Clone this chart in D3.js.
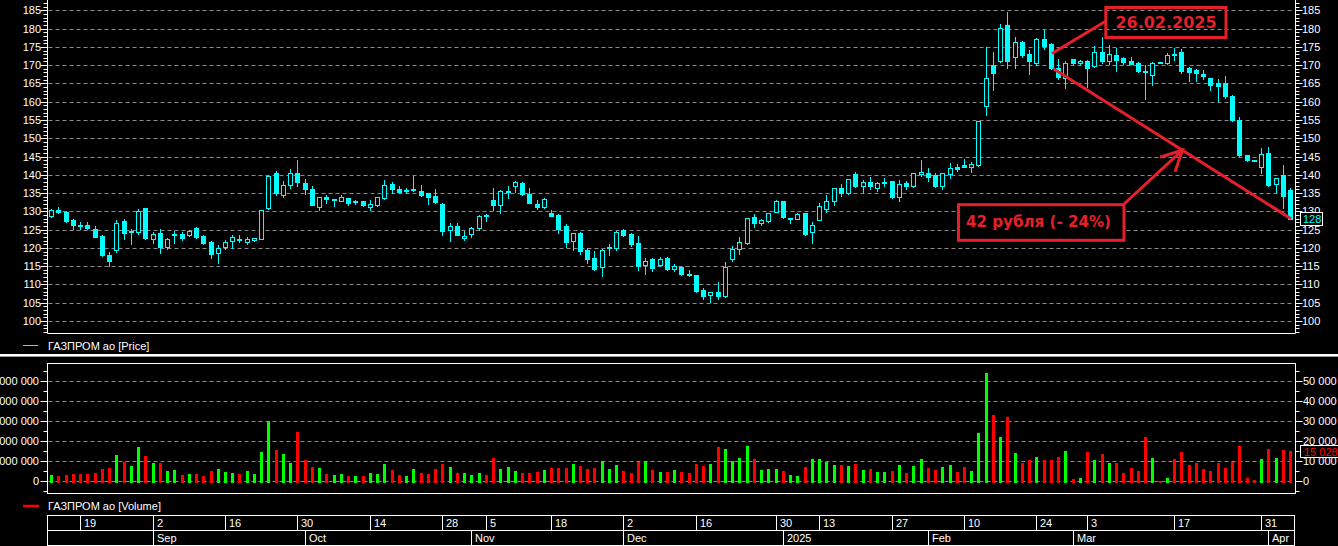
<!DOCTYPE html>
<html><head><meta charset="utf-8">
<script src="https://cdn.jsdelivr.net/npm/d3@7"></script>
<style>
html,body{margin:0;padding:0;background:#000;overflow:hidden}
svg{display:block}
text{font-family:"Liberation Sans",Arial,sans-serif;font-size:11px;fill:#fff}
</style></head><body>
<svg id="c" width="1338" height="546"></svg>
<script>
// ---- trading days (categories) ----
const aug24 = [13,14,15,16,19,20,21,22,23,26,27,28,29,30];
const sep24 = [2,3,4,5,6,9,10,11,12,13,16,17,18,19,20,23,24,25,26,27,30];
const oct24 = [1,2,3,4,7,8,9,10,11,14,15,16,17,18,21,22,23,24,25,28,29,30,31];
const nov24 = [1,2,5,6,7,8,11,12,13,14,15,18,19,20,21,22,25,26,27,28,29];
const dec24 = [2,3,4,5,6,9,10,11,12,13,16,17,18,19,20,23,24,25,26,27,28,30];
const jan25 = [3,6,8,9,10,13,14,15,16,17,20,21,22,23,24,27,28,29,30,31];
const feb25 = [3,4,5,6,7,10,11,12,13,14,17,18,19,20,21,24,25,26,27,28];
const mar25 = [1,2,3,4,5,6,7,10,11,12,13,14,15,16,17,18,19,20,21,24,25,26,27,28,29,30,31];
const apr25 = [1,2,3,4];

// ---- OHLC, ГАЗПРОМ ао ----
const open = [128.6,130.5,129.8,127.6,126.3,126.3,125.3,123.3,118.1,119.3,127.4,124.3,124.3,130.8,122.4,124.2,120.3,123.5,123.8,123.4,
125.4,123.3,121.7,118.5,120.3,121.8,122.5,121.7,122.1,122.5,130.8,140.6,134.6,137.2,140.4,137.7,136.1,131.3,134.0,133.2,
132.9,133.6,132.5,132.8,131.3,131.6,133.7,137.5,136.1,135.6,135.9,135.7,135.0,134.1,132.0,124.9,126.0,122.8,123.7,125.5,
129.1,133.1,131.6,135.5,137.0,137.8,134.7,132.0,131.3,129.6,129.0,126.0,122.0,124.1,119.4,117.2,114.9,120.0,120.1,124.9,
123.8,121.3,115.3,116.9,115.3,117.2,114.3,114.9,112.8,112.5,108.5,107.2,107.9,106.8,117.0,119.8,121.4,128.4,126.7,127.4,
129.9,132.7,127.9,128.0,129.5,124.3,127.6,130.7,132.9,136.4,134.9,140.2,137.0,138.0,136.5,137.9,138.2,133.8,137.8,136.8,
140.1,140.5,140.0,136.8,140.3,142.2,142.8,142.0,142.7,158.9,169.9,171.1,181.0,172.1,176.2,173.1,170.5,177.1,175.8,169.1,
166.4,171.6,170.7,171.1,169.8,173.7,171.0,172.8,172.0,171.2,170.7,168.4,167.2,170.8,170.5,173.0,173.7,169.1,168.7,167.6,
166.4,165.0,165.0,161.5,155.0,145.4,144.05,142.2,145.9,137.5,139.9,135.8];
const high = [130.6,131.2,130.2,128.0,127.2,127.2,126.0,123.6,119.0,127.6,127.8,125.3,130.6,130.9,124.4,125.1,122.6,124.6,124.4,125.0,
125.6,123.4,121.8,120.8,122.2,123.4,123.4,123.0,122.8,130.5,140.0,140.9,138.3,141.6,144.0,138.8,137.0,134.0,134.4,133.4,
134.5,133.7,133.1,132.9,133.1,134.0,138.6,137.9,136.9,136.3,139.7,137.2,135.1,136.1,132.2,126.7,126.9,124.6,125.6,129.0,
129.2,136.4,135.8,136.8,138.2,138.0,136.4,133.1,133.6,130.4,129.2,126.5,124.2,124.3,119.9,119.1,119.6,121.1,124.5,125.2,
124.0,123.2,117.1,117.1,117.4,117.5,115.6,115.1,113.9,112.6,108.9,107.9,110.7,116.1,120.5,123.0,128.2,129.2,127.8,129.6,
133.0,132.9,128.2,129.5,129.6,127.0,132.2,134.4,136.5,137.4,138.8,140.7,138.7,139.4,137.9,139.0,138.4,138.6,138.4,140.6,
144.0,141.9,140.4,140.6,143.2,142.9,144.3,143.5,154.8,174.9,173.7,181.2,184.4,177.6,176.5,174.1,177.3,179.6,176.0,171.6,
171.0,171.8,171.4,171.4,175.2,177.8,175.5,174.8,172.3,172.3,170.9,170.0,170.9,170.9,173.2,174.6,174.3,169.6,168.9,168.7,
166.6,166.2,167.0,161.9,155.7,145.5,144.1,147.4,147.7,139.2,142.7,136.3];
const low = [128.4,129.5,127.2,125.3,125.2,125.3,123.0,117.7,115.0,119.0,122.4,121.2,123.7,122.3,121.4,118.7,119.6,121.4,122.2,123.2,
122.8,121.2,117.3,116.0,119.6,120.1,121.7,121.1,121.9,122.3,130.6,134.5,133.8,136.5,136.8,134.7,131.6,130.5,132.2,131.5,
132.7,131.6,132.0,131.5,130.4,131.4,133.5,134.9,134.9,135.0,135.6,134.2,132.0,132.2,123.5,122.0,123.4,122.1,122.9,124.9,
127.4,130.4,129.6,133.7,135.4,134.5,132.3,130.6,131.0,128.6,124.0,120.3,119.4,118.4,115.9,113.9,112.3,118.1,119.4,123.3,
120.6,113.9,112.9,113.8,115.0,113.9,113.8,112.6,112.3,108.0,106.0,105.3,106.0,106.5,116.4,118.4,121.2,125.8,126.3,127.2,
129.7,128.2,126.7,127.8,123.6,121.4,127.5,129.9,131.8,134.2,134.8,136.6,135.4,136.0,135.7,136.9,133.7,132.9,136.0,136.6,
139.6,138.4,136.6,136.1,139.2,141.1,142.0,140.8,142.5,156.4,163.2,170.8,169.1,169.3,172.3,167.6,170.0,174.3,169.0,166.2,
163.7,170.3,170.4,163.9,169.6,170.6,170.2,168.4,170.4,170.3,168.0,160.8,164.5,170.5,170.3,171.4,167.8,165.7,165.7,166.3,
163.2,160.3,161.0,154.8,145.2,143.9,144.0,140.6,136.8,135.4,130.8,128.0];
const close = [130.3,129.7,127.4,126.2,126.1,125.5,123.1,118.0,116.5,126.7,124.2,124.5,130.1,122.6,123.7,120.3,122.4,123.8,122.8,124.7,
123.0,121.4,118.4,119.9,121.7,123.1,122.3,122.4,122.6,130.3,139.7,135.1,137.2,140.4,138.1,136.0,131.8,133.8,133.3,133.3,
133.8,132.4,132.7,131.6,132.0,133.8,137.2,136.0,135.4,135.9,136.0,134.6,134.0,132.6,124.7,126.0,123.6,123.2,125.4,128.7,
128.6,131.8,135.5,135.7,137.9,134.7,132.4,131.2,133.4,128.8,125.3,121.7,124.0,119.1,117.0,114.2,119.4,120.2,124.3,123.6,
121.2,115.0,116.4,114.6,116.9,114.2,115.1,112.9,112.6,108.3,106.8,107.8,106.8,114.9,119.7,121.6,128.1,126.7,127.6,129.5,
132.9,128.5,128.1,129.3,123.9,126.4,131.5,132.7,136.3,134.9,138.8,136.9,138.0,136.8,137.7,138.0,134.0,137.4,136.8,140.4,
140.8,139.5,136.8,140.4,141.9,141.6,142.2,142.9,154.6,166.4,167.9,180.1,171.0,176.2,172.8,171.0,177.1,175.1,169.1,166.7,
170.7,170.5,171.1,169.1,173.7,171.0,173.0,171.4,170.9,170.3,168.3,168.0,170.5,170.6,172.8,172.8,168.5,168.2,167.9,167.0,
164.5,164.4,161.5,155.0,145.3,144.0,144.0,145.7,137.1,139.0,134.2,128.0];
// ---- volume (lots) ----
const volume = [3000,2500,3000,3500,3500,3500,4000,6000,6500,13000,9800,7500,17000,12500,9000,9000,5000,5500,3000,3500,
3500,2500,5000,6000,4500,4000,3500,5000,3500,14500,30000,15500,13500,9000,24500,10500,7000,6500,3500,3000,
3500,2500,2500,2500,4000,3500,8500,5500,3000,2500,6000,4000,3500,6000,8500,7300,4000,4000,3000,4000,
3000,11500,6000,7000,5000,4000,4000,4500,5500,6500,6500,6500,8500,7500,6000,6500,10000,6000,8000,5000,
4000,9500,10000,5500,4500,4500,5500,4500,4000,8500,7500,8500,17000,16000,10000,11500,17500,11000,5500,6000,
6000,5000,3000,2500,7000,11000,11000,9500,8000,8000,7500,8500,5500,6000,4500,4500,5000,8000,4000,7500,
11000,6500,5500,7000,8000,4500,7000,5000,24000,54000,33000,22000,32300,14300,9000,10500,12000,10500,10500,12000,
15000,1000,1500,14500,10500,13500,9000,9000,4000,6500,5000,22000,11500,300,1500,11000,14500,8000,9000,6000,
5000,9000,6500,9500,17500,1500,500,11000,16000,11500,15500,15028];

// ---- axis tick data ----
const priceTicks = [100,105,110,115,120,125,130,135,140,145,150,155,160,165,170,175,180,185];
const volumeTicks = [0,10000,20000,30000,40000,50000];
const dayTickDates = ["2024-08-19","2024-09-02","2024-09-16","2024-09-30","2024-10-14","2024-10-28","2024-11-05","2024-11-18",
 "2024-12-02","2024-12-16","2024-12-30","2025-01-13","2025-01-27","2025-02-10","2025-02-24","2025-03-03","2025-03-17","2025-03-31"];
const monthTickDates = ["2024-09-02","2024-10-01","2024-11-01","2024-12-02","2025-01-03","2025-02-03","2025-03-01","2025-04-01"];
const monthLabels = ["Sep","Oct","Nov","Dec","2025","Feb","Mar","Apr"];
const priceLegend = "ГАЗПРОМ ао [Price]";
const volumeLegend = "ГАЗПРОМ ао [Volume]";
const noteDate = "26.02.2025";
const noteDrop = "42 рубля (- 24%)";
const noteFromDate = "2025-02-26";

// ---- build ----
const pad = v => String(v).padStart(2,"0");
const months = [["2024-08",aug24],["2024-09",sep24],["2024-10",oct24],["2024-11",nov24],["2024-12",dec24],
  ["2025-01",jan25],["2025-02",feb25],["2025-03",mar25],["2025-04",apr25]];
const dates = months.flatMap(([m,ds]) => ds.map(d => m + "-" + pad(d)));
const data = dates.map((d,i) => ({d, o:open[i], h:high[i], l:low[i], c:close[i], v:volume[i]}));
const last = data[data.length-1];

const svg = d3.select("#c");
const W = 1338;
const PL = 47.5, PR = 1295.5;       // plot left / right lines
const STEP = 7.245;
const x = d3.scaleBand().domain(dates).range([48, 48 + dates.length*STEP]).padding(0);
const cxp = d => Math.floor(x(d) + x.bandwidth()/2);
const yP = d3.scaleLinear().domain([100,185]).range([321,10.3]);
const yV = d3.scaleLinear().domain([0,50000]).range([481.3,381.3]);
const snap = v => Math.round(v) + 0.5;
const CY = "#00ffff", GR = "#00ff00", RD = "#ff0000", GRID = "#8a8a8a", NOTE = "#e5202a";

// ---------- price panel ----------
const gP = svg.append("g");
gP.selectAll("line.grid").data(priceTicks).join("line")
  .attr("x1", PL+1).attr("x2", PR-1).attr("y1", d=>snap(yP(d))).attr("y2", d=>snap(yP(d)))
  .attr("stroke", GRID).attr("stroke-dasharray","4,3");
// minor+major ticks
const pMinor = d3.range(97, 188);
[[PL,-1],[PR,1]].forEach(([ax,dir]) => {
  gP.selectAll(null).data(pMinor).join("line")
    .attr("x1", ax).attr("x2", d => ax + dir*(d%5===0 ? 7 : 4))
    .attr("y1", d=>snap(yP(d))).attr("y2", d=>snap(yP(d))).attr("stroke","#fff");
});
gP.append("line").attr("x1",PL).attr("x2",PL).attr("y1",0).attr("y2",333.5).attr("stroke","#fff");
gP.append("line").attr("x1",PR).attr("x2",PR).attr("y1",0).attr("y2",333.5).attr("stroke","#fff");
gP.append("line").attr("x1",PL).attr("x2",PR).attr("y1",333.5).attr("y2",333.5).attr("stroke","#fff");
gP.selectAll("text.l").data(priceTicks).join("text").attr("x",41).attr("y",d=>yP(d)+4).attr("text-anchor","end").text(d=>d);
gP.selectAll("text.r").data(priceTicks).join("text").attr("x",1302).attr("y",d=>yP(d)+4).text(d=>d);

// candles
const cg = gP.append("g");
cg.selectAll("line").data(data).join("line")
  .attr("x1", d=>cxp(d.d)+0.5).attr("x2", d=>cxp(d.d)+0.5)
  .attr("y1", d=>Math.round(yP(d.h))).attr("y2", d=>Math.round(yP(d.l))+1)
  .attr("stroke", CY);
cg.selectAll("rect").data(data).join("rect")
  .each(function(d){
    const up = d.c > d.o;
    const t = Math.round(yP(Math.max(d.o,d.c))), b = Math.round(yP(Math.min(d.o,d.c)));
    const s = d3.select(this);
    if (up) {
      s.attr("x", cxp(d.d)-2+0.5).attr("y", t+0.5).attr("width",4).attr("height", Math.max(b-t,1))
       .attr("fill","#000").attr("stroke",CY);
    } else {
      s.attr("x", cxp(d.d)-2).attr("y", t).attr("width",5).attr("height", Math.max(b-t,1)+1)
       .attr("fill",CY);
    }
  });

// last price label
const lp = yP(last.c);
gP.append("rect").attr("x",1300.5).attr("y",Math.round(lp)-6.5).attr("width",22).attr("height",13)
  .attr("fill","#000").attr("stroke","#fff");
gP.append("text").attr("x",1303).attr("y",Math.round(lp)+4).style("fill",CY).text(last.c);

// annotations
const iA = dates.indexOf(noteFromDate);
const dA = data[iA];
const ax0 = cxp(dA.d)+2, ay0 = yP(dA.c);
const ax1 = cxp(last.d)+1, ay1 = yP(last.c);
const ann = svg.append("g");
ann.append("line").attr("x1",ax0).attr("y1",ay0).attr("x2",ax1).attr("y2",ay1)
  .attr("stroke",NOTE).attr("stroke-width",3);
ann.append("line").attr("x1",cxp(dA.d)+1).attr("y1",yP(173.2)).attr("x2",1106).attr("y2",21)
  .attr("stroke",NOTE).attr("stroke-width",3);
ann.append("rect").attr("x",1105.8).attr("y",7.5).attr("width",120.2).attr("height",30)
  .attr("fill","none").attr("stroke",NOTE).attr("stroke-width",3);
ann.append("text").attr("x",1166).attr("y",28.3).attr("text-anchor","middle")
  .style("font-family","'DejaVu Sans',sans-serif").style("font-weight","bold").style("font-size","16px")
  .style("fill",NOTE).text(noteDate);
// arrow to trend line
const tx = 1182.5, ty = ay0 + (tx-ax0)*(ay1-ay0)/(ax1-ax0);
ann.append("path").attr("d",`M1124,204 L${tx},${ty} M1160,157.3 L${tx},${ty} L1175,171.7`)
  .attr("fill","none").attr("stroke",NOTE).attr("stroke-width",3);
ann.append("rect").attr("x",958.5).attr("y",204.7).attr("width",165.5).attr("height",35.6)
  .attr("fill","#000").attr("stroke",NOTE).attr("stroke-width",3);
ann.append("text").attr("x",966).attr("y",226.7).attr("textLength",145).attr("lengthAdjust","spacingAndGlyphs")
  .style("font-family","'DejaVu Sans',sans-serif").style("font-weight","bold").style("font-size","16px")
  .style("fill",NOTE).text(noteDrop);

// legend price
svg.append("line").attr("x1",23).attr("x2",38).attr("y1",345.5).attr("y2",345.5).attr("stroke",CY);
svg.append("text").attr("x",48).attr("y",349.5).text(priceLegend);

// separator
svg.append("rect").attr("x",0).attr("y",354).attr("width",W).attr("height",2).attr("fill","#fff");
svg.append("line").attr("x1",0).attr("x2",W).attr("y1",356.5).attr("y2",356.5).attr("stroke","#9a9a9a");

// ---------- volume panel ----------
const gV = svg.append("g");
gV.selectAll("line.grid").data(volumeTicks).join("line")
  .attr("x1",PL+1).attr("x2",PR-1).attr("y1",d=>snap(yV(d))).attr("y2",d=>snap(yV(d)))
  .attr("stroke",GRID).attr("stroke-dasharray","4,3");
const vMinor = d3.range(-5000, 60000, 5000);
[[PL,-1],[PR,1]].forEach(([ax,dir]) => {
  gV.selectAll(null).data(vMinor).join("line")
    .attr("x1",ax).attr("x2",d=>ax+dir*(d%10000===0?7:4))
    .attr("y1",d=>snap(yV(d))).attr("y2",d=>snap(yV(d))).attr("stroke","#fff");
});
gV.append("rect").attr("x",PL).attr("y",363.5).attr("width",PR-PL).attr("height",130).attr("fill","none").attr("stroke","#fff");
const fmt = v => d3.format(",")(v).replace(/,/g," ");
gV.selectAll("text.l").data(volumeTicks).join("text").attr("x",39).attr("y",d=>yV(d)+4).attr("text-anchor","end").text(d=>fmt(d*1000));
gV.selectAll("text.r").data(volumeTicks).join("text").attr("x",1303).attr("y",d=>yV(d)+4).text(d=>fmt(d));
gV.selectAll("rect.bar").data(data).join("rect")
  .attr("x",d=>cxp(d.d)-1).attr("width",3)
  .attr("y",d=>Math.round(yV(d.v))).attr("height",d=>483-Math.round(yV(d.v)))
  .attr("fill",d=>d.c>d.o?GR:RD);
const lv = yV(last.v);
gV.append("rect").attr("x",1300.5).attr("y",Math.round(lv)-5.5).attr("width",40).attr("height",12)
  .attr("fill","#000").attr("stroke","#fff");
gV.append("text").attr("x",1304).attr("y",Math.round(lv)+4.5).style("fill",RD).text(fmt(last.v));

// legend volume
svg.append("line").attr("x1",23).attr("x2",39).attr("y1",506).attr("y2",506).attr("stroke",RD).attr("stroke-width",2.5);
svg.append("text").attr("x",48).attr("y",509.5).text(volumeLegend);

// ---------- date axis ----------
const gD = svg.append("g");
const XR = 1294.5;
gD.append("rect").attr("x",PL).attr("y",515.5).attr("width",XR-PL).attr("height",30).attr("fill","none").attr("stroke","#fff");
gD.append("line").attr("x1",PL).attr("x2",XR).attr("y1",530.5).attr("y2",530.5).attr("stroke","#fff");
gD.selectAll("line.d").data(dayTickDates).join("line")
  .attr("x1",d=>cxp(d)+0.5).attr("x2",d=>cxp(d)+0.5).attr("y1",515.5).attr("y2",530.5).attr("stroke","#fff");
gD.selectAll("text.d").data(dayTickDates).join("text")
  .attr("x",d=>cxp(d)+4).attr("y",527).text(d=>+d.slice(8));
gD.selectAll("line.m").data(monthTickDates).join("line")
  .attr("x1",d=>cxp(d)+0.5).attr("x2",d=>cxp(d)+0.5).attr("y1",530.5).attr("y2",546).attr("stroke","#fff");
gD.selectAll("text.m").data(monthTickDates).join("text")
  .attr("x",d=>cxp(d)+4).attr("y",542).text((d,i)=>monthLabels[i]);
</script>
</body></html>
